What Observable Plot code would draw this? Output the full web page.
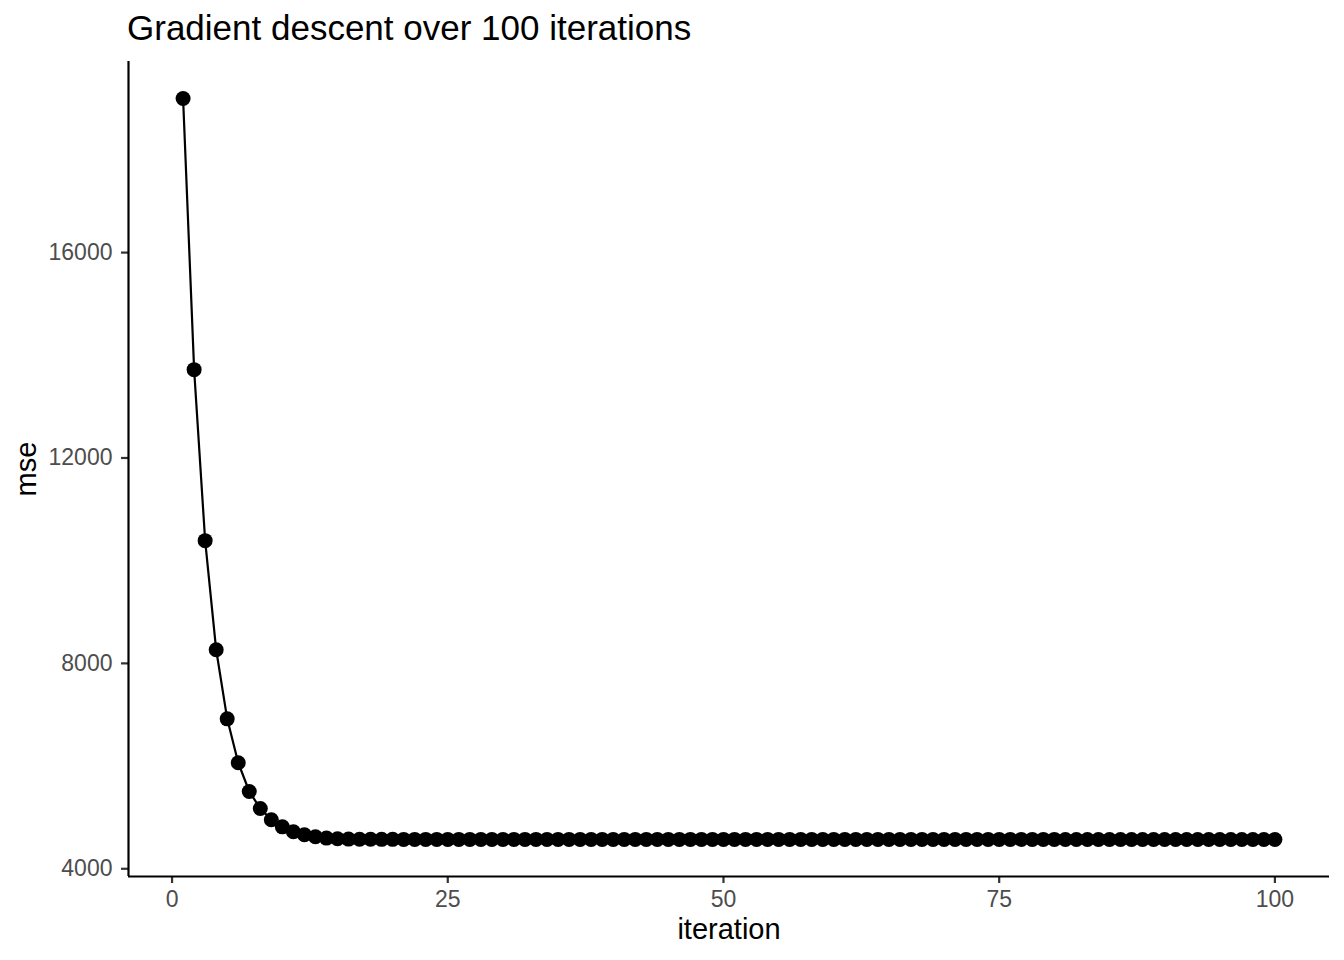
<!DOCTYPE html>
<html>
<head>
<meta charset="utf-8">
<script src="https://cdn.jsdelivr.net/npm/d3@7"></script>
<script src="https://cdn.jsdelivr.net/npm/@observablehq/plot@0.6"></script>
<style>
  html, body { margin: 0; padding: 0; background: #fff; }
  #wrap { width: 1344px; height: 960px; font-family: "Liberation Sans", Arial, Helvetica, sans-serif; }
  #title { height: 47px; padding-top: 3px; padding-left: 127px; font-size: 35px; line-height: 50px; color: #000; white-space: nowrap; }
</style>
</head>
<body>
<div id="wrap">
  <div id="title">Gradient descent over 100 iterations</div>
  <div id="chart"></div>
</div>
<script>
const titleText = "Gradient descent over 100 iterations";
const xLabel = "iteration";
const yLabel = "mse";
const xTicks = [0, 25, 50, 75, 100];
const yTicks = [4000, 8000, 12000, 16000];
const iterations = d3.range(1, 101);
const mse = [
  19000, 13720, 10390, 8265, 6920, 6065, 5505, 5174, 4954, 4817,
  4720, 4662, 4623, 4597, 4584, 4578, 4575, 4574, 4573, 4573,
  4572, 4572, 4572, 4572, 4572, 4572, 4572, 4572, 4572, 4572,
  4572, 4572, 4572, 4572, 4572, 4572, 4572, 4572, 4572, 4572,
  4572, 4572, 4572, 4572, 4572, 4572, 4572, 4572, 4572, 4572,
  4572, 4572, 4572, 4572, 4572, 4572, 4572, 4572, 4572, 4572,
  4572, 4572, 4572, 4572, 4572, 4572, 4572, 4572, 4572, 4572,
  4572, 4572, 4572, 4572, 4572, 4572, 4572, 4572, 4572, 4572,
  4571, 4571, 4571, 4571, 4571, 4571, 4571, 4571, 4571, 4571,
  4571, 4571, 4571, 4571, 4571, 4571, 4571, 4571, 4571, 4571
];
const data = iterations.map((it, i) => ({iteration: it, mse: mse[i]}));

// ggplot-style 5% expansion
const xExt = d3.extent(iterations), yExt = d3.extent(mse);
const xPad = (xExt[1] - xExt[0]) * 0.05, yPad = (yExt[1] - yExt[0]) * 0.05;
const xDomain = [xExt[0] - xPad, xExt[1] + xPad];
const yDomain = [yExt[0] - yPad, yExt[1] + yPad];

const font = "Liberation Sans, Arial, Helvetica, sans-serif";
const chart = Plot.plot({
  width: 1344,
  height: 910,
  marginTop: 11,
  marginBottom: 84,
  marginLeft: 128,
  marginRight: 15,
  style: {fontFamily: font, background: "#fff", overflow: "visible"},
  x: {domain: xDomain},
  y: {domain: yDomain},
  marks: [
    Plot.axisX({ticks: xTicks, tickSize: 7, tickPadding: 7, tickFormat: d => String(d), label: null,
      fontSize: 23, fill: "#4D4D4D", stroke: "#333333", strokeWidth: 2.2}),
    Plot.axisY({ticks: yTicks, tickSize: 7, tickPadding: 9, tickFormat: d => String(d), label: null,
      fontSize: 23, fill: "#4D4D4D", stroke: "#333333", strokeWidth: 2.2}),
    Plot.ruleX([xDomain[0]], {stroke: "#000", strokeWidth: 2.2}),
    Plot.ruleY([yDomain[0]], {stroke: "#000", strokeWidth: 2.2}),
    Plot.line(data, {x: "iteration", y: "mse", stroke: "#000", strokeWidth: 2.2}),
    Plot.dot(data, {x: "iteration", y: "mse", r: 7.5, fill: "#000", stroke: "none"}),
    Plot.text([xLabel], {frameAnchor: "bottom", text: d => d, dy: 53, lineAnchor: "middle", textAnchor: "middle", fontSize: 29, fill: "#000"}),
    Plot.text([yLabel], {frameAnchor: "left", text: d => d, dx: -102, rotate: -90, lineAnchor: "middle", textAnchor: "middle", fontSize: 29, fill: "#000"})
  ]
});
document.getElementById("chart").appendChild(chart);
</script>
</body>
</html>
